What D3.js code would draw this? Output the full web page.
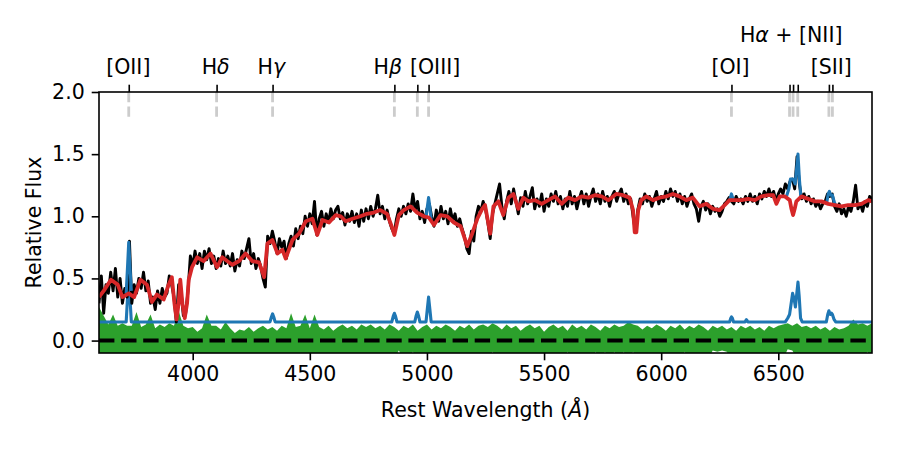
<!DOCTYPE html>
<html>
<head>
<meta charset="utf-8">
<script src="https://cdn.jsdelivr.net/npm/d3@7"></script>
<style>
  body { margin: 0; background: #fff; }
  text { font-family: "DejaVu Sans", sans-serif; }
</style>
</head>
<body>
<div id="chart"></div>
<script>
const obsStart = 3600, obsStep = 10;
const obsFlux = [
  0.30, 0.52, 0.22, 0.45, 0.38, 0.55, 0.40, 0.58, 0.35, 0.50, // 3600
  0.30, 0.42, 0.35, 0.80, 0.30, 0.45, 0.38, 0.50, 0.42, 0.55, // 3700
  0.40, 0.48, 0.30, 0.35, 0.25, 0.40, 0.30, 0.42, 0.35, 0.38, // 3800
  0.52, 0.45, 0.35, 0.15, 0.45, 0.40, 0.20, 0.22, 0.40, 0.68, // 3900
  0.60, 0.72, 0.62, 0.70, 0.58, 0.72, 0.65, 0.74, 0.62, 0.68, // 4000
  0.58, 0.66, 0.60, 0.72, 0.62, 0.68, 0.60, 0.70, 0.56, 0.65, // 4100
  0.60, 0.72, 0.66, 0.74, 0.82, 0.62, 0.70, 0.58, 0.66, 0.60, // 4200
  0.50, 0.43, 0.84, 0.78, 0.88, 0.80, 0.70, 0.82, 0.75, 0.80, // 4300
  0.66, 0.78, 0.84, 0.76, 0.90, 0.82, 0.92, 0.86, 1.00, 0.92, // 4400
  1.02, 0.94, 1.12, 0.85, 0.98, 1.04, 0.92, 1.02, 0.95, 1.06, // 4500
  0.98, 1.05, 1.08, 0.98, 1.03, 0.93, 1.02, 0.96, 1.04, 0.95, // 4600
  1.02, 0.92, 1.05, 0.96, 1.06, 0.98, 1.08, 1.00, 1.06, 1.17, // 4700
  1.02, 1.08, 0.98, 1.05, 0.96, 0.90, 0.86, 0.98, 1.06, 1.00, // 4800
  1.08, 1.02, 1.10, 1.04, 1.18, 1.05, 1.12, 0.98, 1.04, 0.95, // 4900
  1.06, 1.10, 1.00, 0.92, 1.05, 0.96, 1.08, 0.98, 1.04, 0.94, // 5000
  1.06, 0.96, 1.02, 0.92, 0.98, 0.90, 0.84, 0.74, 0.70, 0.88, // 5100
  0.80, 1.00, 1.08, 1.04, 1.12, 1.06, 0.95, 0.82, 1.02, 1.10, // 5200
  1.18, 1.26, 1.08, 0.98, 1.12, 1.20, 1.10, 1.22, 1.12, 1.02, // 5300
  1.15, 1.08, 1.20, 1.10, 1.16, 1.23, 1.06, 1.14, 1.08, 1.18, // 5400
  1.04, 1.14, 1.08, 1.18, 1.12, 1.20, 1.10, 1.16, 1.06, 1.14, // 5500
  1.08, 1.20, 1.10, 1.16, 1.06, 1.14, 1.20, 1.10, 1.18, 1.08, // 5600
  1.16, 1.22, 1.12, 1.18, 1.10, 1.20, 1.12, 1.16, 1.08, 1.16, // 5700
  1.20, 1.12, 1.18, 1.22, 1.12, 1.18, 1.10, 1.14, 1.00, 0.88, // 5800
  1.05, 1.14, 1.10, 1.18, 1.12, 1.16, 1.08, 1.14, 1.20, 1.10, // 5900
  1.16, 1.12, 1.20, 1.14, 1.22, 1.16, 1.20, 1.12, 1.18, 1.10, // 6000
  1.16, 1.08, 1.14, 1.18, 1.10, 1.06, 0.96, 1.08, 1.12, 1.05, // 6100
  1.10, 1.02, 1.08, 1.04, 1.06, 1.00, 1.04, 1.10, 1.12, 1.15, // 6200
  1.12, 1.10, 1.16, 1.12, 1.14, 1.10, 1.16, 1.12, 1.18, 1.12, // 6300
  1.16, 1.10, 1.18, 1.14, 1.20, 1.16, 1.22, 1.16, 1.20, 1.12, // 6400
  1.18, 1.22, 1.18, 1.26, 1.22, 1.28, 1.30, 1.22, 1.48, 1.26, // 6500
  1.14, 1.18, 1.12, 1.16, 1.10, 1.14, 1.08, 1.12, 1.06, 1.10, // 6600
  1.12, 1.18, 1.16, 1.18, 1.08, 1.04, 1.10, 1.02, 1.06, 1.00, // 6700
  1.08, 1.04, 1.12, 1.25, 1.06, 1.10, 1.04, 1.12, 1.08, 1.16, // 6800
  1.14
];

// stellar continuum model (red)
const modelWave = [3600, 3620, 3651, 3680, 3700, 3727, 3750, 3777, 3805, 3826, 3847, 3876, 3897, 3911, 3922, 3931, 3940, 3947, 3956, 3966, 3976, 3983,
  3997, 4019, 4047, 4076, 4104, 4126, 4147, 4169, 4198, 4226, 4254, 4283, 4305, 4319, 4340, 4362, 4383, 4397, 4426, 4454, 4483,
  4511, 4532, 4554, 4582, 4611, 4632, 4653, 4682, 4716, 4744, 4773, 4801, 4830, 4851, 4861, 4880, 4901, 4930, 4958, 4987, 5008,
  5030, 5058, 5087, 5115, 5144, 5172, 5193, 5215, 5236, 5248, 5270, 5284, 5305, 5326, 5348, 5369, 5390, 5412, 5433, 5461, 5490,
  5518, 5547, 5575, 5603, 5632, 5660, 5689, 5717, 5746, 5774, 5808, 5837, 5865, 5880, 5887, 5894, 5902, 5915, 5936, 5965, 5993,
  6022, 6050, 6078, 6107, 6135, 6164, 6192, 6221, 6249, 6271, 6292, 6313, 6343, 6371, 6400, 6428, 6457, 6478, 6492, 6506, 6528,
  6549, 6556, 6563, 6570, 6577, 6599, 6627, 6656, 6684, 6713, 6741, 6770, 6798, 6827, 6855, 6884, 6900];
const modelFlux = [0.35, 0.40, 0.49, 0.45, 0.35, 0.38, 0.35, 0.49, 0.45, 0.31, 0.37, 0.33, 0.45, 0.51, 0.30, 0.17, 0.30, 0.49, 0.30, 0.18, 0.30, 0.49,
  0.59, 0.67, 0.64, 0.70, 0.59, 0.67, 0.64, 0.61, 0.64, 0.70, 0.64, 0.63, 0.51, 0.78, 0.81, 0.70, 0.73, 0.66, 0.81, 0.86, 0.96,
  0.98, 0.85, 0.97, 0.95, 1.01, 1.00, 0.96, 0.98, 1.00, 1.02, 1.03, 1.05, 1.02, 0.91, 0.85, 1.01, 1.05, 1.08, 1.03, 1.00, 0.99,
  0.93, 1.01, 1.00, 0.95, 0.92, 0.76, 0.86, 0.98, 1.06, 1.09, 0.86, 1.08, 1.12, 1.01, 1.15, 1.18, 1.06, 1.15, 1.12, 1.13, 1.10,
  1.13, 1.16, 1.10, 1.15, 1.13, 1.16, 1.15, 1.17, 1.16, 1.13, 1.18, 1.17, 1.15, 1.05, 0.87, 0.87, 1.05, 1.13, 1.16, 1.13, 1.15,
  1.16, 1.18, 1.16, 1.13, 1.15, 1.08, 1.10, 1.06, 1.05, 1.09, 1.13, 1.13, 1.13, 1.14, 1.13, 1.16, 1.17, 1.17, 1.10, 1.16, 1.16,
  1.13, 1.06, 1.01, 1.06, 1.12, 1.16, 1.14, 1.12, 1.12, 1.10, 1.09, 1.08, 1.09, 1.09, 1.10, 1.13, 1.12];

// emission-line model + 0.15 offset (lower blue)
const gasWave = [3600, 3716, 3722, 3727, 3732, 3738, 4330, 4336, 4341, 4346, 4352, 4850, 4856, 4861, 4866, 4872,
  4948, 4954, 4959, 4964, 4970, 4996, 5002, 5007, 5012, 5018, 6292, 6297, 6300, 6304, 6309, 6358, 6364, 6370,
  6530, 6540, 6548, 6555, 6561, 6567, 6573, 6579, 6584, 6589, 6595, 6602, 6705, 6711, 6716, 6722, 6727, 6731, 6738, 6745, 6900];
const gasFlux = [0.15, 0.15, 0.35, 0.55, 0.35, 0.15, 0.15, 0.19, 0.215, 0.19, 0.15, 0.15, 0.195, 0.22, 0.195, 0.15,
  0.15, 0.20, 0.23, 0.20, 0.15, 0.15, 0.26, 0.35, 0.26, 0.15, 0.15, 0.18, 0.19, 0.18, 0.15, 0.15, 0.168, 0.15,
  0.15, 0.18, 0.21, 0.30, 0.38, 0.34, 0.27, 0.38, 0.47, 0.36, 0.18, 0.15, 0.15, 0.21, 0.24, 0.21, 0.22, 0.21, 0.17, 0.15, 0.15];

// stellar + gas total (upper blue), only where it shows above the red
const totalWave = [3716, 3722, 3727, 3732, 3738, null, 4996, 5002, 5007, 5012, 5018, null, 6292, 6300, 6308, null,
  6535, 6545, 6552, 6563, 6572, 6578, 6584, 6590, 6596, null, 6706, 6713, 6718, 6724, 6731, 6738, 6744];
const totalFlux = [0.38, 0.60, 0.79, 0.60, 0.40, null, 0.99, 1.08, 1.15, 1.08, 0.97, null, 1.13, 1.18, 1.13, null,
  1.16, 1.22, 1.30, 1.30, 1.26, 1.38, 1.50, 1.30, 1.16, null, 1.10, 1.18, 1.20, 1.17, 1.17, 1.12, 1.09];

// noise band (green), 20 A steps
const noiseStart = 3600, noiseStep = 20;
const noiseTop = [
  0.27, 0.20, 0.13, 0.21, 0.12,  0.14, 0.12, 0.12, 0.23, 0.11,  0.13, 0.21, 0.10, 0.13, 0.11,
  0.14, 0.12, 0.24, 0.12, 0.10,  0.11, 0.07, 0.10, 0.21, 0.12,  0.12, 0.09, 0.15, 0.10, 0.06,
  0.09, 0.08, 0.11, 0.07, 0.10,  0.12, 0.09, 0.11, 0.08, 0.12,  0.10, 0.22, 0.11, 0.12, 0.21,
  0.10, 0.21, 0.11, 0.09, 0.12,  0.08, 0.11, 0.13, 0.10, 0.12,  0.09, 0.13, 0.11, 0.13, 0.10,
  0.12, 0.09, 0.13, 0.11, 0.08,  0.12, 0.10, 0.13, 0.08, 0.11,  0.13, 0.09, 0.12, 0.10, 0.13,
  0.11, 0.08, 0.12, 0.10, 0.13,  0.09, 0.12, 0.13, 0.11, 0.14,  0.12, 0.09, 0.13, 0.10, 0.12,
  0.08, 0.11, 0.13, 0.10, 0.12,  0.07, 0.11, 0.13, 0.10, 0.12,  0.08, 0.13, 0.10, 0.12, 0.09,
  0.13, 0.11, 0.08, 0.12, 0.10,  0.13, 0.11, 0.12, 0.15, 0.13,  0.12, 0.09, 0.12, 0.10, 0.13,
  0.11, 0.08, 0.12, 0.10, 0.13,  0.09, 0.12, 0.10, 0.13, 0.11,  0.08, 0.12, 0.10, 0.12, 0.09,
  0.11, 0.08, 0.12, 0.10, 0.12,  0.09, 0.11, 0.08, 0.12, 0.10,  0.12, 0.13, 0.14, 0.12, 0.14,
  0.11, 0.12, 0.10, 0.12, 0.09,  0.11, 0.08, 0.11, 0.09, 0.10,  0.12, 0.17, 0.13, 0.14, 0.12,
  0.14
];
const noiseBottom = [
  -0.15, -0.15, -0.15, -0.15, -0.15,  -0.15, -0.15, -0.15, -0.15, -0.15,  -0.15, -0.15, -0.15, -0.15, -0.15,
  -0.15, -0.15, -0.15, -0.15, -0.15,  -0.15, -0.15, -0.15, -0.15, -0.15,  -0.15, -0.15, -0.15, -0.15, -0.15,
  -0.15, -0.15, -0.15, -0.15, -0.15,  -0.15, -0.15, -0.15, -0.15, -0.15,  -0.15, -0.15, -0.15, -0.15, -0.15,
  -0.15, -0.15, -0.15, -0.15, -0.15,  -0.15, -0.15, -0.15, -0.15, -0.15,  -0.15, -0.15, -0.15, -0.15, -0.15,
  -0.15, -0.15, -0.15, -0.15, -0.08,  -0.15, -0.15, -0.09, -0.15, -0.15,  -0.15, -0.15, -0.15, -0.15, -0.15,
  -0.15, -0.15, -0.15, -0.15, -0.15,  -0.15, -0.15, -0.15, -0.15, -0.09,  -0.15, -0.15, -0.15, -0.15, -0.15,
  -0.15, -0.15, -0.15, -0.15, -0.15,  -0.15, -0.15, -0.15, -0.15, -0.15,  -0.09, -0.15, -0.15, -0.15, -0.15,
  -0.15, -0.09, -0.15, -0.09, -0.15,  -0.09, -0.15, -0.09, -0.15, -0.09,  -0.15, -0.15, -0.15, -0.15, -0.15,
  -0.15, -0.15, -0.15, -0.15, -0.15,  -0.09, -0.15, -0.15, -0.15, -0.15,  -0.15, -0.08, -0.09, -0.08, -0.09,
  -0.15, -0.15, -0.15, -0.15, -0.15,  -0.15, -0.15, -0.15, -0.15, -0.15,  -0.15, -0.15, -0.07, -0.08, -0.15,
  -0.15, -0.15, -0.15, -0.15, -0.15,  -0.15, -0.15, -0.15, -0.15, -0.15,  -0.15, -0.15, -0.15, -0.15, -0.09,
  -0.15
];

// emission lines marked along the top
const lineWaves = [3727, 4102, 4341, 4861, 4959, 5007, 6300, 6548, 6563, 6583, 6716, 6731];
const labelNames = ["[OII]", "H|δ", "H|γ", "H|β", "[OIII]", "[OI]", "H|α| + [NII]", "[SII]"];
const labelWaves = [3725, 4098, 4336, 4833, 5035, 6296, 6555, 6726];
const labelRows = [0, 0, 0, 0, 0, 0, 1, 0];

const xTicks = [4000, 4500, 5000, 5500, 6000, 6500];
const yTicks = [0, 0.5, 1.0, 1.5, 2.0];

const width = 900, height = 450;
const margin = {top: 92, right: 28, bottom: 97, left: 99};
const fontSize = 20.5;
const tickLen = 7.3;

const x = d3.scaleLinear([3600, 6900], [margin.left, width - margin.right]);
const y = d3.scaleLinear([-0.1, 2.0], [height - margin.bottom, margin.top]);

const svg = d3.select("#chart").append("svg")
  .attr("width", width)
  .attr("height", height)
  .attr("viewBox", [0, 0, width, height]);

svg.append("defs").append("clipPath").attr("id", "plot")
  .append("rect")
  .attr("x", margin.left).attr("y", margin.top)
  .attr("width", width - margin.left - margin.right)
  .attr("height", height - margin.top - margin.bottom);

const plot = svg.append("g").attr("clip-path", "url(#plot)");

// green noise band
const noise = noiseTop.map((t, i) => ({w: noiseStart + i * noiseStep, lo: noiseBottom[i], hi: t}));
plot.append("path")
  .datum(noise)
  .attr("fill", "#2ca02c")
  .attr("d", d3.area().x(d => x(d.w)).y0(d => y(d.lo)).y1(d => y(d.hi)));

// zero line
plot.append("line")
  .attr("x1", x(3600)).attr("x2", x(6900))
  .attr("y1", y(0)).attr("y2", y(0))
  .attr("stroke", "#000")
  .attr("stroke-width", 4)
  .attr("stroke-dasharray", "15.4,6.7");

// grey markers of the lines, from 1.8 up to the top
plot.append("g")
  .selectAll("line")
  .data(lineWaves)
  .join("line")
  .attr("x1", d => x(d)).attr("x2", d => x(d))
  .attr("y1", y(1.8)).attr("y2", y(2.0))
  .attr("stroke", "#cccccc")
  .attr("stroke-width", 2.8)
  .attr("stroke-dasharray", "10.3,4.4");

const lineOf = d3.line().defined(d => d[0] != null).x(d => x(d[0])).y(d => y(d[1]));

// lower blue: emission-line model
plot.append("path")
  .datum(gasWave.map((w, i) => [w, gasFlux[i]]))
  .attr("fill", "none")
  .attr("stroke", "#1f77b4")
  .attr("stroke-width", 3.1)
  .attr("stroke-linejoin", "round")
  .attr("d", lineOf);

// black observed spectrum
plot.append("path")
  .datum(obsFlux.map((f, i) => [obsStart + i * obsStep, f]))
  .attr("fill", "none")
  .attr("stroke", "#000")
  .attr("stroke-width", 2.9)
  .attr("stroke-linejoin", "round")
  .attr("d", lineOf);

// upper blue: total model
plot.append("path")
  .datum(totalWave.map((w, i) => [w, totalFlux[i]]))
  .attr("fill", "none")
  .attr("stroke", "#1f77b4")
  .attr("stroke-width", 3.1)
  .attr("stroke-linejoin", "round")
  .attr("d", lineOf);

// red stellar model
plot.append("path")
  .datum(modelWave.map((w, i) => [w, modelFlux[i]]))
  .attr("fill", "none")
  .attr("stroke", "#d62728")
  .attr("stroke-width", 3.8)
  .attr("stroke-linejoin", "round")
  .attr("d", lineOf);

// frame
svg.append("rect")
  .attr("x", margin.left).attr("y", margin.top)
  .attr("width", width - margin.left - margin.right)
  .attr("height", height - margin.top - margin.bottom)
  .attr("fill", "none")
  .attr("stroke", "#000")
  .attr("stroke-width", 1.6);

const xAxis = svg.append("g")
  .attr("transform", `translate(0,${height - margin.bottom})`)
  .call(d3.axisBottom(x).tickValues(xTicks).tickSize(tickLen).tickPadding(6).tickFormat(d3.format("d")));
const yAxis = svg.append("g")
  .attr("transform", `translate(${margin.left},0)`)
  .call(d3.axisLeft(y).tickValues(yTicks).tickSize(tickLen).tickPadding(7).tickFormat(d3.format(".1f")));
const topAxis = svg.append("g")
  .attr("transform", `translate(0,${margin.top})`)
  .call(d3.axisTop(x).tickValues(lineWaves).tickSize(tickLen).tickFormat(""));

for (const ax of [xAxis, yAxis, topAxis]) {
  ax.select(".domain").remove();
  ax.selectAll(".tick line").attr("stroke", "#000").attr("stroke-width", 1.6);
  ax.selectAll(".tick text")
    .attr("fill", "#000")
    .style("font-family", "DejaVu Sans")
    .style("font-size", fontSize + "px");
}

// labels for the emission lines; "|" toggles italic for the greek letters
const labels = svg.append("g")
  .style("font-size", fontSize + "px")
  .attr("text-anchor", "middle");
labelNames.forEach((name, i) => {
  const t = labels.append("text")
    .attr("x", x(labelWaves[i]))
    .attr("y", labelRows[i] === 0 ? 74 : 42);
  name.split("|").forEach((part, j) => {
    t.append("tspan").text(part).style("font-style", j % 2 ? "italic" : "normal");
  });
});

// axis titles
const xTitle = svg.append("text")
  .attr("x", (margin.left + width - margin.right) / 2)
  .attr("y", 417)
  .attr("text-anchor", "middle")
  .style("font-size", fontSize + "px");
xTitle.append("tspan").text("Rest Wavelength (");
xTitle.append("tspan").text("Å").style("font-style", "italic");
xTitle.append("tspan").text(")");

svg.append("text")
  .attr("transform", `translate(41,${(margin.top + height - margin.bottom) / 2}) rotate(-90)`)
  .attr("text-anchor", "middle")
  .style("font-size", fontSize + "px")
  .text("Relative Flux");
</script>
</body>
</html>
